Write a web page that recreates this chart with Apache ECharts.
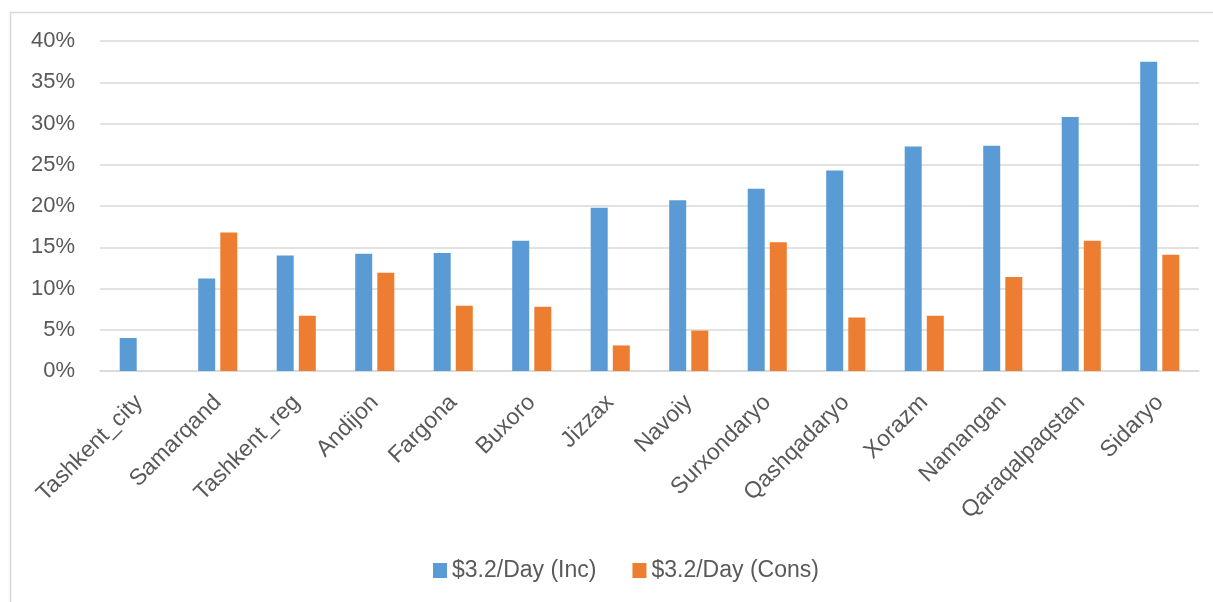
<!DOCTYPE html>
<html lang="en">

<head>
    <meta charset="UTF-8">
    <title>Poverty $3.2/Day by region</title>
    <style>
        * {
            margin: 0;
            padding: 0;
            box-sizing: border-box;
        }

        html,
        body {
            width: 100%;
            height: 100%;
            background: #fff;
        }

        .box {
            width: 1213px;
            height: 602px;
        }
    </style>
</head>

<body>
    <div class="box"></div>
</body>
<script src="https://cdn.jsdelivr.net/npm/echarts@6/dist/echarts.min.js"></script>
<script>
    // regions
    var regions = ['Tashkent_city', 'Samarqand', 'Tashkent_reg', 'Andijon', 'Fargona', 'Buxoro', 'Jizzax',
        'Navoiy', 'Surxondaryo', 'Qashqadaryo', 'Xorazm', 'Namangan', 'Qaraqalpaqstan', 'Sidaryo'];
    // $3.2/Day income based, %
    var incValues = [4.0, 11.2, 14.0, 14.2, 14.3, 15.8, 19.8, 20.7, 22.1, 24.3, 27.2, 27.3, 30.8, 37.5];
    // $3.2/Day consumption based, %
    var consValues = [0, 16.8, 6.7, 11.9, 7.9, 7.8, 3.1, 4.9, 15.6, 6.5, 6.7, 11.4, 15.8, 14.1];
    var seriesNames = ['$3.2/Day (Inc)', '$3.2/Day (Cons)'];
    var yTicks = [0, 5, 10, 15, 20, 25, 30, 35, 40];

    var font = '"Liberation Sans", Arial, sans-serif';
    var chart = echarts.init(document.querySelector('.box'));

    var option = {
        backgroundColor: '#fff',
        animation: false,
        graphic: [{
            type: 'rect',
            shape: { x: 10.5, y: 12.5, width: 1300, height: 1000 },
            style: { fill: 'none', stroke: '#d9d9d9', lineWidth: 1.5 },
            silent: true
        }],
        grid: {
            left: 100,
            right: 14,
            top: 41,
            bottom: 231
        },
        legend: {
            bottom: 15,
            left: 428,
            itemWidth: 14,
            itemHeight: 15,
            itemGap: 36,
            icon: 'rect',
            textStyle: {
                color: '#595959',
                fontSize: 23,
                fontFamily: font
            },
            data: seriesNames
        },
        xAxis: {
            type: 'category',
            data: regions,
            axisLine: { lineStyle: { color: '#d9d9d9', width: 1.5 } },
            axisTick: { show: false },
            axisLabel: {
                rotate: 45,
                margin: 28,
                interval: 0,
                color: '#595959',
                fontSize: 23,
                fontFamily: font
            }
        },
        yAxis: {
            type: 'value',
            min: yTicks[0],
            max: yTicks[yTicks.length - 1],
            interval: 5,
            axisLine: { show: false },
            axisTick: { show: false },
            splitLine: { lineStyle: { color: '#d9d9d9', width: 1.5 } },
            axisLabel: {
                margin: 25,
                color: '#595959',
                fontSize: 22,
                fontFamily: font,
                formatter: function (v) {
                    return v + '%';
                }
            }
        },
        series: [{
            name: seriesNames[0],
            type: 'bar',
            barWidth: 17,
            barGap: '30%',
            itemStyle: { color: '#5b9bd5' },
            data: incValues
        }, {
            name: seriesNames[1],
            type: 'bar',
            barWidth: 17,
            barGap: '30%',
            itemStyle: { color: '#ed7d31' },
            data: consValues
        }]
    };
    chart.setOption(option);
</script>

</html>
